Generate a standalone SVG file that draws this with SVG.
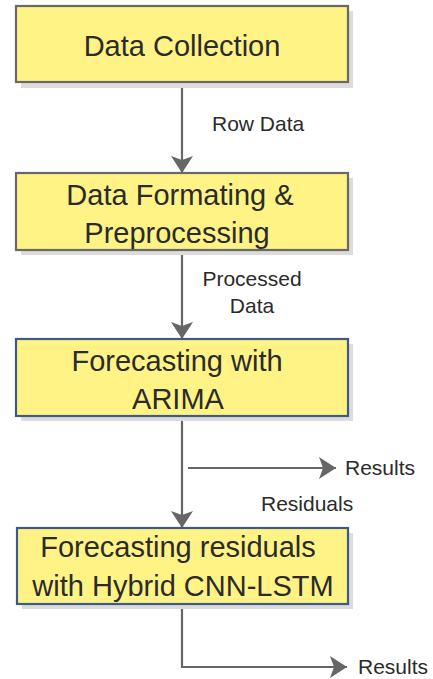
<svg xmlns="http://www.w3.org/2000/svg" width="433" height="679" viewBox="0 0 433 679">
  <defs>
    <marker id="arrow" viewBox="0 0 17 22" refX="17" refY="11" markerWidth="17" markerHeight="22" markerUnits="userSpaceOnUse" orient="auto">
      <path d="M0,0 L17,11 L0,22 L4,11 Z" fill="#666"/>
    </marker>
  </defs>
  <style>
    .shadow { fill: #dcdcdc; }
    .box { fill: #fff386; stroke-width: 2.2; }
    .grey { stroke: #686868; }
    .blue { stroke: #3f5a84; }
    .t { font-family: "Liberation Sans", Arial, sans-serif; font-size: 29px; fill: #2b2b2b; text-anchor: middle; }
    .lbl { font-family: "Liberation Sans", Arial, sans-serif; font-size: 21px; fill: #2b2b2b; }
    .edge { fill: none; stroke: #666; stroke-width: 2.2; }
  </style>
  <rect width="433" height="679" fill="#fff"/>

  <g id="connectors">
    <line class="edge" x1="182" y1="83" x2="182" y2="173" marker-end="url(#arrow)"/>
    <line class="edge" x1="182" y1="251" x2="182" y2="339" marker-end="url(#arrow)"/>
    <line class="edge" x1="182" y1="417" x2="182" y2="528" marker-end="url(#arrow)"/>
    <line class="edge" x1="188" y1="468" x2="336" y2="468" marker-end="url(#arrow)"/>
    <polyline class="edge" points="182,605 182,667 347,667" marker-end="url(#arrow)"/>
    <text class="lbl" x="212" y="131">Row Data</text>
    <text class="lbl" x="252" y="286" text-anchor="middle">Processed</text>
    <text class="lbl" x="252" y="313" text-anchor="middle">Data</text>
    <text class="lbl" x="345" y="475">Results</text>
    <text class="lbl" x="261" y="511">Residuals</text>
    <text class="lbl" x="358" y="674">Results</text>
  </g>

  <g id="data-collection">
    <rect class="shadow" x="21" y="11" width="332" height="77"/>
    <rect class="box grey" x="16" y="6" width="332" height="76"/>
    <text class="t" x="182" y="56">Data Collection</text>
  </g>

  <g id="data-formatting">
    <rect class="shadow" x="21" y="178" width="332" height="77"/>
    <rect class="box grey" x="16" y="173" width="332" height="77"/>
    <text class="t" x="180" y="205">Data Formating &amp;</text>
    <text class="t" x="177" y="243">Preprocessing</text>
  </g>

  <g id="arima">
    <rect class="shadow" x="21" y="344" width="332" height="77"/>
    <rect class="box blue" x="16" y="339" width="332" height="77"/>
    <text class="t" x="177" y="371">Forecasting with</text>
    <text class="t" x="178" y="409">ARIMA</text>
  </g>

  <g id="cnn-lstm">
    <rect class="shadow" x="22" y="533" width="331" height="76"/>
    <rect class="box blue" x="17" y="528" width="331" height="76"/>
    <text class="t" x="178" y="557">Forecasting residuals</text>
    <text class="t" x="183" y="596">with Hybrid CNN-LSTM</text>
  </g>
</svg>
